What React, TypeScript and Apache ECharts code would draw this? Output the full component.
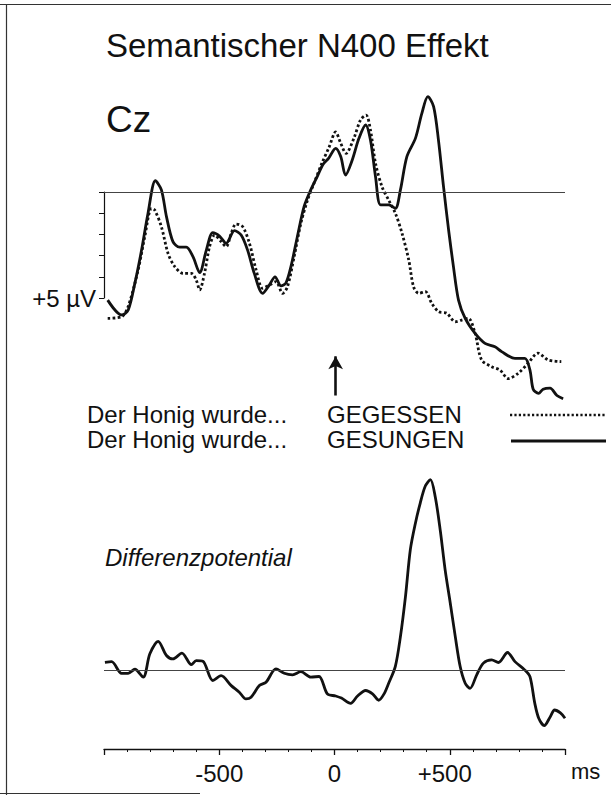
import React, { useEffect, useRef } from "react";
import * as echarts from "echarts";

// time in ms, amplitude in µV (positive plotted downward, EEG convention)
const gesungen: [number, number][] = [
  [-984, 5.1], [-923, 5.8], [-895, 5.57], [-866, 4.3], [-837, 2.74], [-809, 1.0],
  [-777, -0.53], [-751, -0.1], [-729, 1.16], [-701, 2.34], [-672, 2.6], [-643, 2.6],
  [-614, 3.05], [-585, 3.8], [-556, 2.74], [-528, 1.92], [-499, 2.08], [-470, 2.42],
  [-434, 1.82], [-405, 2.03], [-377, 2.74], [-348, 3.84], [-312, 4.78], [-283, 4.39],
  [-258, 4.0], [-232, 4.43], [-211, 4.3], [-189, 3.52], [-161, 2.1], [-132, 0.69],
  [-103, -0.1], [-74, -0.75], [-50, -1.3], [-25, -1.6], [5, -2.06], [27, -1.67],
  [48, -0.8], [77, -1.51], [106, -2.53], [135, -3.16], [156, -2.45], [178, -0.72],
  [200, 0.61], [235, 0.61], [264, 0.77], [286, -0.1], [314, -1.67], [351, -2.53],
  [379, -3.71], [405, -4.5], [430, -4.03], [451, -2.45], [473, -0.25], [495, 1.79],
  [516, 3.52], [538, 5.1], [567, 5.96], [610, 6.67], [653, 7.14], [696, 7.3],
  [725, 7.53], [783, 7.85], [826, 7.85], [848, 8.4], [862, 9.3], [885, 9.5],
  [905, 9.3], [935, 9.25], [965, 9.6], [992, 9.75],
];

const gegessen: [number, number][] = [
  [-984, 5.96], [-923, 5.88], [-895, 5.4], [-852, 3.68], [-823, 2.1], [-794, 0.77],
  [-780, 0.85], [-751, 1.64], [-722, 2.9], [-693, 3.52], [-657, 3.84], [-621, 3.84],
  [-600, 4.15], [-585, 4.62], [-564, 3.84], [-542, 2.58], [-520, 2.03], [-492, 2.34],
  [-470, 2.58], [-448, 1.95], [-427, 1.51], [-398, 1.64], [-369, 2.42], [-340, 3.68],
  [-312, 4.54], [-283, 4.39], [-254, 4.23], [-225, 4.78], [-204, 4.47], [-175, 3.05],
  [-146, 1.48], [-117, 0.38], [-89, -0.41], [-53, -1.4], [-24, -2.1], [5, -2.83],
  [27, -2.3], [50, -1.82], [84, -2.53], [113, -3.4], [137, -3.63], [156, -2.92],
  [178, -1.35], [206, -0.25], [235, 0.38], [264, 1.0], [293, 1.95], [322, 3.2],
  [343, 4.47], [365, 4.78], [394, 4.7], [422, 5.25], [451, 5.64], [487, 5.72],
  [524, 6.12], [552, 6.04], [581, 5.96], [610, 6.67], [638, 7.92], [682, 8.24],
  [718, 8.4], [754, 8.8], [797, 8.55], [840, 8.08], [883, 7.6], [927, 7.92],
  [984, 8.0],
];

const differenz: [number, number][] = [
  [-996, -0.39], [-967, -0.42], [-924, 0.13], [-895, 0.13], [-866, -0.06], [-830, 0.31],
  [-801, -0.79], [-765, -1.38], [-729, -0.71], [-701, -0.55], [-662, -0.82], [-621, -0.28],
  [-600, -0.47], [-571, -0.44], [-528, 0.47], [-492, 0.24], [-448, 0.71], [-413, 1.02],
  [-384, 1.34], [-362, 1.26], [-326, 0.71], [-297, 0.55], [-254, -0.08], [-218, 0.13],
  [-182, 0.2], [-146, 0.05], [-103, 0.31], [-67, 0.28], [-31, 1.1], [5, 1.2],
  [30, 1.3], [70, 1.55], [100, 1.2], [135, 0.94], [165, 1.1], [192, 1.4],
  [215, 1.1], [235, 0.6], [264, -0.2], [286, -1.6], [308, -3.5], [329, -5.7],
  [351, -6.95], [372, -7.9], [394, -8.7], [416, -9.0], [437, -8.2], [459, -6.6],
  [480, -4.75], [502, -3.2], [524, -1.6], [545, -0.2], [567, 0.6], [588, 0.84],
  [617, 0.2], [646, -0.35], [682, -0.5], [711, -0.38], [751, -0.85], [783, -0.42],
  [826, -0.02], [848, 0.29], [869, 1.55], [886, 2.25], [910, 2.6], [935, 2.2],
  [955, 1.86], [980, 2.0], [1000, 2.25],
];

const xTickLabels: Record<number, string> = { [-500]: "-500", 0: "0", 500: "{p|+500}" };
const arrowFrom = 9.6;
const arrowTo = 7.75;

const FONT = '"Liberation Sans", Arial, Helvetica, sans-serif';

export default function App() {
  const ref = useRef<HTMLDivElement>(null);

  useEffect(() => {
    if (!ref.current) return;
    const chart = echarts.init(ref.current, undefined, { renderer: "svg" });
    const black = "#111";

    chart.setOption({
      animation: false,
      backgroundColor: "#fff",
      textStyle: { fontFamily: FONT },
      grid: [
        { left: 104, width: 461, top: 86, height: 318 },
        { left: 104, width: 461, top: 458.5, height: 290.5 },
        { left: 104, width: 10, top: 192, height: 106 },
      ],
      xAxis: [
        { type: "value", gridIndex: 0, min: -1000, max: 1000, show: false },
        {
          type: "value",
          gridIndex: 1,
          min: -1000,
          max: 1000,
          interval: 500,
          axisLine: { show: true, onZero: false, lineStyle: { color: black, width: 1.3 } },
          axisTick: { show: true, length: 6, lineStyle: { color: black, width: 1.3 } },
          minorTick: { show: true, splitNumber: 5, length: 3, lineStyle: { color: black, width: 1 } },
          splitLine: { show: false },
          minorSplitLine: { show: false },
          axisLabel: {
            formatter: (v: number) => xTickLabels[v] ?? "",
            fontSize: 24,
            color: black,
            fontFamily: FONT,
            margin: 12,
            rich: { p: { fontSize: 24, color: black, fontFamily: FONT, padding: [0, 10, 0, 0] } },
          },
        },
        { type: "value", gridIndex: 2, min: 0, max: 1, show: false },
      ],
      yAxis: [
        { type: "value", gridIndex: 0, min: -5, max: 10, inverse: true, show: false },
        { type: "value", gridIndex: 1, min: -10, max: 3.7, inverse: true, show: false },
        {
          type: "value",
          gridIndex: 2,
          min: 0,
          max: 5,
          interval: 1,
          inverse: true,
          axisLine: { show: true, lineStyle: { color: black, width: 1.2 } },
          axisTick: { show: true, length: 5, lineStyle: { color: black, width: 1 } },
          splitLine: { show: false },
          axisLabel: {
            formatter: (v: number) => (v === 5 ? "+5 µV" : ""),
            fontSize: 24,
            color: black,
            fontFamily: FONT,
            margin: 8,
          },
        },
      ],
      series: [
        {
          name: "GEGESSEN",
          type: "line",
          xAxisIndex: 0,
          yAxisIndex: 0,
          data: gegessen,
          smooth: 0.3,
          symbol: "none",
          lineStyle: { color: black, width: 2.8, type: [2.6, 2.4] },
          markLine: {
            silent: true,
            symbol: "none",
            label: { show: false },
            lineStyle: { color: "#444", width: 1, type: "solid" },
            data: [{ yAxis: 0 }],
          },
          z: 3,
        },
        {
          name: "GESUNGEN",
          type: "line",
          xAxisIndex: 0,
          yAxisIndex: 0,
          data: gesungen,
          smooth: 0.3,
          symbol: "none",
          lineStyle: { color: black, width: 2.8 },
          markLine: {
            silent: true,
            symbol: ["none", "arrow"],
            symbolSize: [11, 13],
            label: { show: false },
            lineStyle: { color: black, width: 2.6, type: "solid" },
            data: [[{ coord: [5, arrowFrom] }, { coord: [5, arrowTo] }]],
          },
          z: 4,
        },
        {
          name: "Differenzpotential",
          type: "line",
          xAxisIndex: 1,
          yAxisIndex: 1,
          data: differenz,
          smooth: 0.3,
          symbol: "none",
          lineStyle: { color: black, width: 2.8 },
          markLine: {
            silent: true,
            symbol: "none",
            label: { show: false },
            lineStyle: { color: "#444", width: 1, type: "solid" },
            data: [{ yAxis: 0 }],
          },
        },
      ],
      graphic: [
        // frame
        { type: "line", shape: { x1: 0, y1: 4.5, x2: 611, y2: 4.5 }, style: { stroke: "#333", lineWidth: 1.2 } },
        { type: "line", shape: { x1: 6.5, y1: 4, x2: 6.5, y2: 795 }, style: { stroke: "#333", lineWidth: 1.2 } },
        { type: "line", shape: { x1: 0, y1: 793.5, x2: 200, y2: 793.5 }, style: { stroke: "#333", lineWidth: 1.2 } },
        // titles
        {
          type: "text", x: 106, y: 45,
          style: { text: "Semantischer N400 Effekt", font: `33px ${FONT}`, fill: black, textVerticalAlign: "middle" },
        },
        {
          type: "text", x: 106, y: 119,
          style: { text: "Cz", font: `37px ${FONT}`, fill: black, textVerticalAlign: "middle" },
        },
        {
          type: "text", x: 105, y: 557,
          style: { text: "Differenzpotential", font: `italic 24px ${FONT}`, fill: black, textVerticalAlign: "middle" },
        },
        // legend
        {
          type: "text", x: 87, y: 414,
          style: { text: "Der Honig wurde...", font: `24px ${FONT}`, fill: black, textVerticalAlign: "middle" },
        },
        {
          type: "text", x: 327, y: 414,
          style: { text: "GEGESSEN", font: `24px ${FONT}`, fill: black, textVerticalAlign: "middle" },
        },
        {
          type: "text", x: 87, y: 439,
          style: { text: "Der Honig wurde...", font: `24px ${FONT}`, fill: black, textVerticalAlign: "middle" },
        },
        {
          type: "text", x: 327, y: 439,
          style: { text: "GESUNGEN", font: `24px ${FONT}`, fill: black, textVerticalAlign: "middle" },
        },
        {
          type: "line", shape: { x1: 510, y1: 415, x2: 606, y2: 415 },
          style: { stroke: black, lineWidth: 2.4, lineDash: [2.2, 2.2] },
        },
        {
          type: "line", shape: { x1: 511, y1: 441, x2: 606, y2: 441 },
          style: { stroke: black, lineWidth: 3 },
        },
        {
          type: "text", x: 571, y: 771,
          style: { text: "ms", font: `22px ${FONT}`, fill: black, textVerticalAlign: "middle" },
        },
      ],
    });

    return () => chart.dispose();
  }, []);

  return <div ref={ref} style={{ width: 611, height: 795, position: "absolute", left: 0, top: 0 }} />;
}
